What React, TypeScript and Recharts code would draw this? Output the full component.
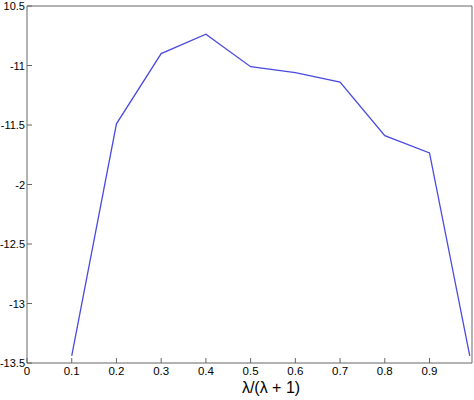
import React from 'react';
import { LineChart, Line, XAxis, YAxis } from 'recharts';

const ratios = [0.1, 0.2, 0.3, 0.4, 0.5, 0.6, 0.7, 0.8, 0.9, 0.99];
const values = [-13.44, -11.49, -10.9, -10.737, -11.01, -11.06, -11.14, -11.59, -11.735, -13.44];
const xTicks = [0, 0.1, 0.2, 0.3, 0.4, 0.5, 0.6, 0.7, 0.8, 0.9];
const yTicks = [-10.5, -11, -11.5, -12, -12.5, -13, -13.5];
const yTickLabels = ['10.5', '-11', '-11.5', '-2', '-12.5', '-13', '-13.5'];

const data = ratios.map((r, i) => ({ r, v: values[i] }));

const axisColor = '#666666';
const font = 'Liberation Sans, Arial, sans-serif';

const BottomLabel = (props: any) => {
  const { x, y, payload } = props;
  return (
    <text x={x} y={y + 12} textAnchor="middle" fontSize={11.5} fontFamily={font} fill="#000">
      {payload.value}
    </text>
  );
};

const LeftLabel = (props: any) => {
  const { x, y, index, payload } = props;
  return (
    <text x={x} y={y + 4} textAnchor="end" fontSize={11} fontFamily={font} fill="#000">
      {yTickLabels[index] ?? payload.value}
    </text>
  );
};

export default function App() {
  return (
    <div style={{ position: 'fixed', left: 0, top: 0, width: 474, height: 400, background: '#fff' }}>
      <LineChart width={474} height={400} data={data} margin={{ top: 5, right: 1, bottom: 0, left: 0 }}>
        <XAxis
          dataKey="r"
          type="number"
          domain={[0, 0.995]}
          ticks={xTicks}
          tickSize={-5}
          tickMargin={5}
          tickLine={{ stroke: axisColor }}
          stroke={axisColor}
          tick={<BottomLabel />}
          height={37}
          interval={0}
        />
        <XAxis
          xAxisId="top"
          dataKey="r"
          type="number"
          orientation="top"
          domain={[0, 0.995]}
          ticks={xTicks}
          tickSize={-5}
          tickLine={{ stroke: axisColor }}
          stroke={axisColor}
          tick={false}
          height={1}
          interval={0}
        />
        <YAxis
          type="number"
          domain={[-13.5, -10.5]}
          ticks={yTicks}
          tickSize={-5}
          tickMargin={7}
          tickLine={{ stroke: axisColor }}
          stroke={axisColor}
          tick={<LeftLabel />}
          width={27}
          interval={0}
        />
        <YAxis
          yAxisId="right"
          orientation="right"
          type="number"
          domain={[-13.5, -10.5]}
          ticks={yTicks}
          tickSize={-5}
          tickLine={{ stroke: axisColor }}
          stroke={axisColor}
          tick={false}
          width={1}
          interval={0}
        />
        <Line
          dataKey="v"
          stroke="#4a4ae0"
          strokeWidth={1.3}
          dot={false}
          type="linear"
          isAnimationActive={false}
        />
        <text x={271} y={393} textAnchor="middle" fontSize={16} fontFamily={font} fill="#000">
          λ/(λ + 1)
        </text>
      </LineChart>
    </div>
  );
}
